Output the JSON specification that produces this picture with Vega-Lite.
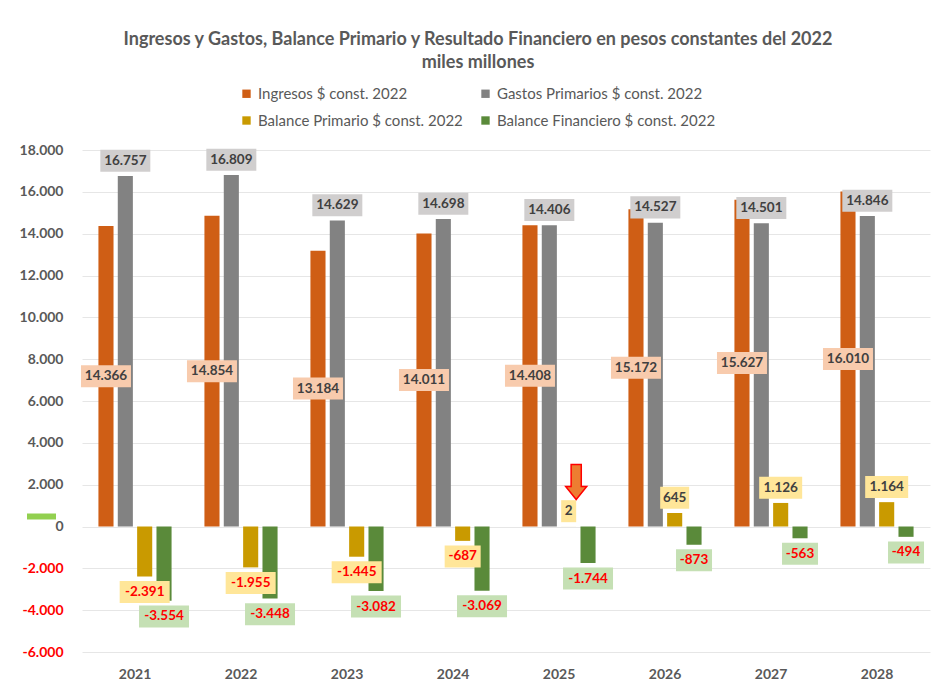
{
  "$schema": "https://vega.github.io/schema/vega-lite/v6.json",
  "width": 848,
  "height": 502,
  "autosize": {"type": "none"},
  "padding": {"left": 82, "top": 150, "right": 6, "bottom": 34},
  "background": "white",
  "config": {
    "locale": {"number": {"decimal": ",", "thousands": ".", "grouping": [3], "currency": ["$", ""], "minus": "-"}},
    "font": "Lato",
    "view": {"stroke": null}
  },
  "title": {
    "text": ["Ingresos y Gastos, Balance Primario y Resultado Financiero en pesos constantes del 2022", "miles millones"],
    "fontSize": 18,
    "font": "Lato",
    "fontWeight": "bold",
    "color": "#595959",
    "anchor": "middle",
    "dx": -28,
    "offset": 14,
    "lineHeight": 23
  },
  "datasets": {
    "main": [
      {"year": "2021", "serie": "Ingresos $ const. 2022", "value": 14366},
      {"year": "2022", "serie": "Ingresos $ const. 2022", "value": 14854},
      {"year": "2023", "serie": "Ingresos $ const. 2022", "value": 13184},
      {"year": "2024", "serie": "Ingresos $ const. 2022", "value": 14011},
      {"year": "2025", "serie": "Ingresos $ const. 2022", "value": 14408},
      {"year": "2026", "serie": "Ingresos $ const. 2022", "value": 15172},
      {"year": "2027", "serie": "Ingresos $ const. 2022", "value": 15627},
      {"year": "2028", "serie": "Ingresos $ const. 2022", "value": 16010},
      {"year": "2021", "serie": "Gastos Primarios $ const. 2022", "value": 16757},
      {"year": "2022", "serie": "Gastos Primarios $ const. 2022", "value": 16809},
      {"year": "2023", "serie": "Gastos Primarios $ const. 2022", "value": 14629},
      {"year": "2024", "serie": "Gastos Primarios $ const. 2022", "value": 14698},
      {"year": "2025", "serie": "Gastos Primarios $ const. 2022", "value": 14406},
      {"year": "2026", "serie": "Gastos Primarios $ const. 2022", "value": 14527},
      {"year": "2027", "serie": "Gastos Primarios $ const. 2022", "value": 14501},
      {"year": "2028", "serie": "Gastos Primarios $ const. 2022", "value": 14846},
      {"year": "2021", "serie": "Balance Primario $ const. 2022", "value": -2391},
      {"year": "2022", "serie": "Balance Primario $ const. 2022", "value": -1955},
      {"year": "2023", "serie": "Balance Primario $ const. 2022", "value": -1445},
      {"year": "2024", "serie": "Balance Primario $ const. 2022", "value": -687},
      {"year": "2025", "serie": "Balance Primario $ const. 2022", "value": 2},
      {"year": "2026", "serie": "Balance Primario $ const. 2022", "value": 645},
      {"year": "2027", "serie": "Balance Primario $ const. 2022", "value": 1126},
      {"year": "2028", "serie": "Balance Primario $ const. 2022", "value": 1164},
      {"year": "2021", "serie": "Balance Financiero $ const. 2022", "value": -3554},
      {"year": "2022", "serie": "Balance Financiero $ const. 2022", "value": -3448},
      {"year": "2023", "serie": "Balance Financiero $ const. 2022", "value": -3082},
      {"year": "2024", "serie": "Balance Financiero $ const. 2022", "value": -3069},
      {"year": "2025", "serie": "Balance Financiero $ const. 2022", "value": -1744},
      {"year": "2026", "serie": "Balance Financiero $ const. 2022", "value": -873},
      {"year": "2027", "serie": "Balance Financiero $ const. 2022", "value": -563},
      {"year": "2028", "serie": "Balance Financiero $ const. 2022", "value": -494}
    ],
    "arrow": [
      {"year": "2025", "serie": "Balance Primario $ const. 2022", "value": 2127}
    ],
    "mark": [
      {"year": "2021", "serie": "Ingresos $ const. 2022", "value": 478}
    ]
  },
  "encoding": {
    "x": {
      "field": "year",
      "type": "nominal",
      "title": null,
      "scale": {"paddingInner": 0.31, "paddingOuter": 0.155},
      "axis": {
        "domain": false,
        "ticks": false,
        "labelAngle": 0,
        "labelFontSize": 14,
        "labelFontWeight": "bold",
        "labelColor": "#595959",
        "labelPadding": 15
      }
    },
    "xOffset": {
      "field": "serie",
      "type": "nominal",
      "sort": ["Ingresos $ const. 2022", "Gastos Primarios $ const. 2022", "Balance Primario $ const. 2022", "Balance Financiero $ const. 2022"],
      "scale": {"paddingInner": 0.22, "paddingOuter": 0}
    }
  },
  "layer": [
    {
      "data": {"name": "main"},
      "mark": {"type": "bar"},
      "encoding": {
        "y": {
          "field": "value",
          "type": "quantitative",
          "title": null,
          "scale": {"domain": [-6000, 18000], "nice": false, "zero": true},
          "axis": {
            "values": [-6000, -4000, -2000, 0, 2000, 4000, 6000, 8000, 10000, 12000, 14000, 16000, 18000],
            "format": ",d",
            "domain": false,
            "ticks": false,
            "labelFontSize": 14,
            "labelFontWeight": "bold",
            "labelColor": {"condition": {"test": "datum.value < 0", "value": "#FF0000"}, "value": "#595959"},
            "labelPadding": 19,
            "gridColor": "#E6E6E6",
            "gridWidth": 1
          }
        },
        "color": {
          "field": "serie",
          "type": "nominal",
          "sort": ["Ingresos $ const. 2022", "Gastos Primarios $ const. 2022", "Balance Primario $ const. 2022", "Balance Financiero $ const. 2022"],
          "scale": {
            "domain": ["Ingresos $ const. 2022", "Gastos Primarios $ const. 2022", "Balance Primario $ const. 2022", "Balance Financiero $ const. 2022"],
            "range": ["#CF5E15", "#828282", "#C99A00", "#5A8A3A"]
          },
          "legend": {
            "title": null,
            "orient": "none",
            "legendX": 157,
            "legendY": -64,
            "direction": "horizontal",
            "columns": 2,
            "columnPadding": 15,
            "rowPadding": 11,
            "symbolType": "square",
            "symbolSize": 70,
            "symbolStrokeWidth": 0,
            "labelFontSize": 15,
            "labelColor": "#595959",
            "labelLimit": 400,
            "labelOffset": 4
          }
        }
      }
    },
    {
      "data": {"name": "main"},
      "transform": [
        {"calculate": "datum.serie == 'Ingresos $ const. 2022' ? datum.value / 2 : (datum.value >= 0 ? datum.value + 730 : datum.value - 745)", "as": "labelY"},
        {"calculate": "datum.labelY - 526", "as": "boxY0"},
        {"calculate": "datum.labelY + 526", "as": "boxY1"},
        {"calculate": "7 * length(format(datum.value, ',d')) + 8", "as": "boxW"}
      ],
      "mark": {"type": "rule", "strokeCap": "butt"},
      "encoding": {
        "y": {"field": "boxY0", "type": "quantitative"},
        "y2": {"field": "boxY1"},
        "strokeWidth": {"field": "boxW", "type": "quantitative", "scale": null},
        "stroke": {
          "field": "serie",
          "type": "nominal",
          "scale": {
            "domain": ["Ingresos $ const. 2022", "Gastos Primarios $ const. 2022", "Balance Primario $ const. 2022", "Balance Financiero $ const. 2022"],
            "range": ["#F8CBAD", "#D0CECE", "#FFE699", "#C5E0B4"]
          },
          "legend": null
        }
      }
    },
    {
      "data": {"name": "main"},
      "transform": [
        {"calculate": "datum.serie == 'Ingresos $ const. 2022' ? datum.value / 2 : (datum.value >= 0 ? datum.value + 730 : datum.value - 745)", "as": "labelY"}
      ],
      "mark": {"type": "text", "fontSize": 13.5, "fontWeight": "bold", "baseline": "middle", "align": "center"},
      "encoding": {
        "y": {"field": "labelY", "type": "quantitative"},
        "text": {"field": "value", "type": "quantitative", "format": ",d"},
        "color": {"condition": {"test": "datum.value < 0", "value": "#FF0000"}, "value": "#404040"}
      }
    },
    {
      "data": {"name": "arrow"},
      "mark": {
        "type": "point",
        "shape": "M0.14,-1H0.72V0.26H1.03L0.43,1L-0.17,0.26H0.14Z",
        "size": 1225,
        "filled": true,
        "fill": "#ED7D31",
        "stroke": "#FF0000",
        "strokeWidth": 1.5,
        "opacity": 1
      },
      "encoding": {
        "y": {"field": "value", "type": "quantitative"}
      }
    },
    {
      "data": {"name": "mark"},
      "mark": {
        "type": "point",
        "shape": "M-15.8,-0.6H-10V0.6H-15.8Z",
        "size": 100,
        "filled": true,
        "fill": "#92D050",
        "strokeWidth": 0,
        "opacity": 1
      },
      "encoding": {
        "y": {"field": "value", "type": "quantitative"}
      }
    }
  ]
}
